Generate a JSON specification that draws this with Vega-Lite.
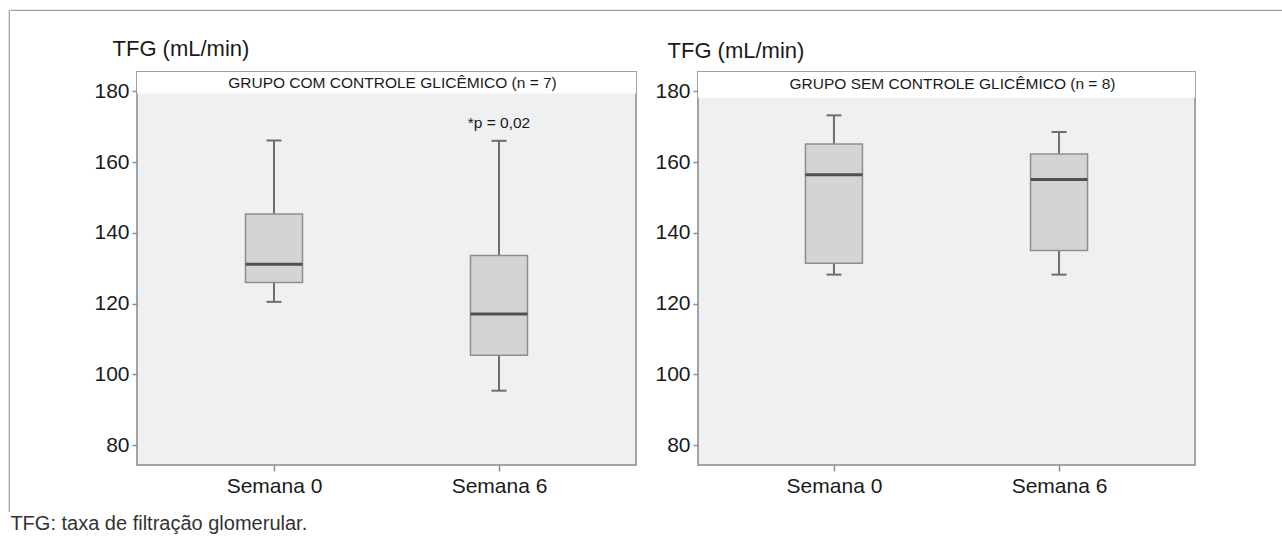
{
  "$schema": "https://vega.github.io/schema/vega-lite/v6.json",
  "padding": {"left": 8, "top": 9, "right": 0, "bottom": 4},
  "background": "white",
  "config": {
    "font": "Liberation Sans",
    "view": {"stroke": null},
    "text": {"font": "Liberation Sans", "color": "#1a1a1a"}
  },
  "datasets": {
    "boxes": [
      {"grupo": "com", "semana": "Semana 0", "min": 120.5, "q1": 126.0, "median": 131.1, "q3": 145.3, "max": 166.1},
      {"grupo": "com", "semana": "Semana 6", "min": 95.4, "q1": 105.4, "median": 117.1, "q3": 133.6, "max": 166.0},
      {"grupo": "sem", "semana": "Semana 0", "min": 128.2, "q1": 131.4, "median": 156.4, "q3": 165.1, "max": 173.2},
      {"grupo": "sem", "semana": "Semana 6", "min": 128.2, "q1": 135.0, "median": 155.1, "q3": 162.3, "max": 168.5}
    ]
  },
  "title": {
    "text": "TFG: taxa de filtração glomerular.",
    "orient": "bottom",
    "anchor": "start",
    "frame": "bounds",
    "baseline": "top",
    "offset": 2,
    "dx": 2,
    "fontSize": 20,
    "fontWeight": "normal",
    "color": "#333333",
    "font": "Liberation Sans"
  },
  "spacing": 0,
  "hconcat": [
    {
      "width": 0.01,
      "height": 501,
      "data": {"values": []},
      "mark": "point",
      "view": {"stroke": "#9b9b9b", "strokeWidth": 1.2}
    },
    {
      "spacing": 25,
      "vconcat": [
        {
          "width": 1274,
          "height": 0.01,
          "data": {"values": []},
          "mark": "point",
          "view": {"stroke": "#9b9b9b", "strokeWidth": 1.2}
        },
        {
          "spacing": 16,
          "hconcat": [
            {
              "width": 65,
              "height": 10,
              "data": {"values": []},
              "mark": "point"
            },
            {
              "width": 499,
              "height": 393,
              "data": {"name": "boxes"},
              "transform": [{"filter": "datum.grupo == 'com'"}],
              "view": {"fill": "#eff0f1", "stroke": "#a3a3a3", "strokeWidth": 2},
              "layer": [
                {
                  "data": {"values": [{}]},
                  "mark": {"type": "rect", "fill": "white"},
                  "encoding": {
                    "y": {
                      "datum": 179.4,
                      "type": "quantitative",
                      "scale": {"domain": [74.4, 185.45], "nice": false, "zero": false},
                      "axis": {
                        "values": [80, 100, 120, 140, 160, 180],
                        "domain": false,
                        "grid": false,
                        "tickSize": 5,
                        "tickColor": "#8c8c8c",
                        "tickWidth": 1.5,
                        "labelFontSize": 21,
                        "labelColor": "#1a1a1a",
                        "labelPadding": 3,
                        "title": "TFG (mL/min)",
                        "titleAngle": 0,
                        "titleAlign": "left",
                        "titleBaseline": "middle",
                        "titleX": -25,
                        "titleY": -24,
                        "titleFontSize": 22,
                        "titleFontWeight": "normal",
                        "titleColor": "#1a1a1a"
                      }
                    },
                    "y2": {"datum": 185.45}
                  }
                },
                {
                  "data": {"values": [{}]},
                  "mark": {"type": "text", "fontSize": 15.5, "dx": 6, "color": "#1a1a1a"},
                  "encoding": {
                    "y": {"datum": 182.4, "type": "quantitative"},
                    "text": {"value": "GRUPO COM CONTROLE GLICÊMICO (n = 7)"}
                  }
                },
                {
                  "mark": {"type": "rule", "color": "#6e6e6e", "strokeWidth": 2},
                  "encoding": {
                    "x": {
                      "field": "semana",
                      "type": "nominal",
                      "scale": {"type": "point", "padding": 0.609},
                      "axis": {
                        "domain": false,
                        "tickSize": 6,
                        "tickColor": "#8c8c8c",
                        "tickWidth": 1.5,
                        "labelFontSize": 21,
                        "labelColor": "#1a1a1a",
                        "labelAngle": 0,
                        "labelPadding": 4,
                        "title": null
                      }
                    },
                    "y": {"field": "min", "type": "quantitative"},
                    "y2": {"field": "max"}
                  }
                },
                {
                  "mark": {"type": "bar", "size": 57, "fill": "#d4d4d6", "stroke": "#8e8e8e", "strokeWidth": 1.5},
                  "encoding": {
                    "x": {"field": "semana", "type": "nominal"},
                    "y": {"field": "q1", "type": "quantitative"},
                    "y2": {"field": "q3"}
                  }
                },
                {
                  "mark": {"type": "tick", "size": 57, "thickness": 3, "color": "#505050", "opacity": 1},
                  "encoding": {
                    "x": {"field": "semana", "type": "nominal"},
                    "y": {"field": "median", "type": "quantitative"}
                  }
                },
                {
                  "mark": {"type": "tick", "size": 15, "thickness": 2, "color": "#6e6e6e", "opacity": 1},
                  "encoding": {
                    "x": {"field": "semana", "type": "nominal"},
                    "y": {"field": "min", "type": "quantitative"}
                  }
                },
                {
                  "mark": {"type": "tick", "size": 15, "thickness": 2, "color": "#6e6e6e", "opacity": 1},
                  "encoding": {
                    "x": {"field": "semana", "type": "nominal"},
                    "y": {"field": "max", "type": "quantitative"}
                  }
                },
                {
                  "data": {"values": [{"semana": "Semana 6", "label": "*p = 0,02"}]},
                  "mark": {"type": "text", "fontSize": 15.5, "color": "#1a1a1a"},
                  "encoding": {
                    "x": {"field": "semana", "type": "nominal"},
                    "y": {"datum": 171.0, "type": "quantitative"},
                    "text": {"field": "label"}
                  }
                }
              ]
            },
            {
              "width": 497,
              "height": 393,
              "data": {"name": "boxes"},
              "transform": [{"filter": "datum.grupo == 'sem'"}],
              "view": {"fill": "#eff0f1", "stroke": "#a3a3a3", "strokeWidth": 2},
              "layer": [
                {
                  "data": {"values": [{}]},
                  "mark": {"type": "rect", "fill": "white"},
                  "encoding": {
                    "y": {
                      "datum": 178.2,
                      "type": "quantitative",
                      "scale": {"domain": [74.4, 185.45], "nice": false, "zero": false},
                      "axis": {
                        "values": [80, 100, 120, 140, 160, 180],
                        "domain": false,
                        "grid": false,
                        "tickSize": 5,
                        "tickColor": "#8c8c8c",
                        "tickWidth": 1.5,
                        "labelFontSize": 21,
                        "labelColor": "#1a1a1a",
                        "labelPadding": 3,
                        "title": "TFG (mL/min)",
                        "titleAngle": 0,
                        "titleAlign": "left",
                        "titleBaseline": "middle",
                        "titleX": -31,
                        "titleY": -22,
                        "titleFontSize": 22,
                        "titleFontWeight": "normal",
                        "titleColor": "#1a1a1a"
                      }
                    },
                    "y2": {"datum": 185.45}
                  }
                },
                {
                  "data": {"values": [{}]},
                  "mark": {"type": "text", "fontSize": 15.5, "dx": 6, "color": "#1a1a1a"},
                  "encoding": {
                    "y": {"datum": 182.0, "type": "quantitative"},
                    "text": {"value": "GRUPO SEM CONTROLE GLICÊMICO (n = 8)"}
                  }
                },
                {
                  "mark": {"type": "rule", "color": "#6e6e6e", "strokeWidth": 2},
                  "encoding": {
                    "x": {
                      "field": "semana",
                      "type": "nominal",
                      "scale": {"type": "point", "padding": 0.604},
                      "axis": {
                        "domain": false,
                        "tickSize": 6,
                        "tickColor": "#8c8c8c",
                        "tickWidth": 1.5,
                        "labelFontSize": 21,
                        "labelColor": "#1a1a1a",
                        "labelAngle": 0,
                        "labelPadding": 4,
                        "title": null
                      }
                    },
                    "y": {"field": "min", "type": "quantitative"},
                    "y2": {"field": "max"}
                  }
                },
                {
                  "mark": {"type": "bar", "size": 57, "fill": "#d4d4d6", "stroke": "#8e8e8e", "strokeWidth": 1.5},
                  "encoding": {
                    "x": {"field": "semana", "type": "nominal"},
                    "y": {"field": "q1", "type": "quantitative"},
                    "y2": {"field": "q3"}
                  }
                },
                {
                  "mark": {"type": "tick", "size": 57, "thickness": 3, "color": "#505050", "opacity": 1},
                  "encoding": {
                    "x": {"field": "semana", "type": "nominal"},
                    "y": {"field": "median", "type": "quantitative"}
                  }
                },
                {
                  "mark": {"type": "tick", "size": 15, "thickness": 2, "color": "#6e6e6e", "opacity": 1},
                  "encoding": {
                    "x": {"field": "semana", "type": "nominal"},
                    "y": {"field": "min", "type": "quantitative"}
                  }
                },
                {
                  "mark": {"type": "tick", "size": 15, "thickness": 2, "color": "#6e6e6e", "opacity": 1},
                  "encoding": {
                    "x": {"field": "semana", "type": "nominal"},
                    "y": {"field": "max", "type": "quantitative"}
                  }
                }
              ]
            }
          ]
        }
      ]
    }
  ]
}
